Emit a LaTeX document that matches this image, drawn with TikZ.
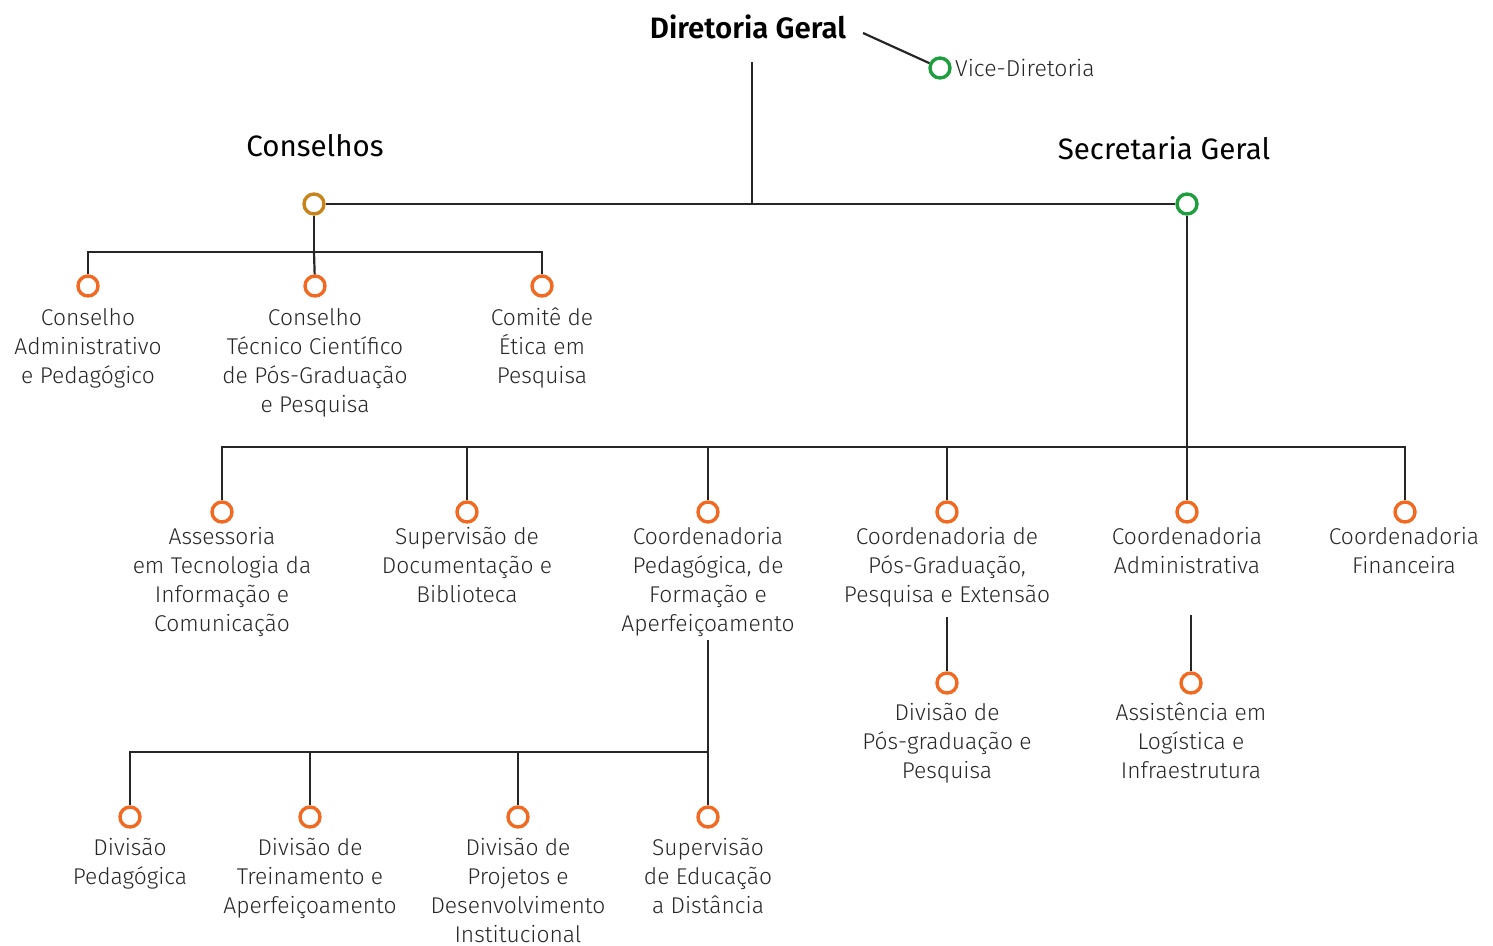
\documentclass[tikz,border=0pt]{standalone}
\usepackage{fontspec}
\setmainfont{Fira Sans}[UprightFont=* Light, BoldFont=* Medium]
\newfontfamily\headfont{Fira Sans}[UprightFont=*, BoldFont=* SemiBold]
\definecolor{orgorange}{HTML}{F26A21}
\definecolor{orggreen}{HTML}{1E9E3E}
\definecolor{orggold}{HTML}{C8841A}
\tikzset{
  dot/.style={circle, draw=orgorange, line width=3.4pt, fill=white, minimum size=20pt, inner sep=0pt},
  gdot/.style={dot, draw=orggreen},
  label/.style={align=center, anchor=north, inner sep=0pt, font=\fontsize{22.8pt}{29pt}\selectfont, text=black!85},
  head/.style={inner sep=2pt, font=\headfont\fontsize{29.5pt}{32pt}\selectfont},
  conn/.style={line width=2.2pt, black!85}
}
\begin{document}
\begin{tikzpicture}[x=1pt, y=-1pt]
\useasboundingbox (0,0) rectangle (1493,945);
% top level
\node[head, font=\headfont\bfseries\fontsize{29.5pt}{32pt}\selectfont] (dg) at (748,27) {Diretoria Geral};
\coordinate (dge) at (863,33);
\coordinate (dgs) at (752,62);
\coordinate (jtop) at (752,204);
\node[gdot] (vd) at (940,68) {};
\node[anchor=west, inner sep=0pt, font=\fontsize{23pt}{29pt}\selectfont, text=black!85] (lvd) at (955,68) {Vice-Diretoria};
\node[head] (lcons) at (315,146) {Conselhos};
\node[head] (lsg) at (1164,148) {Secretaria Geral};
\node[dot, draw=orggold] (cons) at (314,204) {};
\node[gdot] (sg) at (1187,204) {};
\draw[conn] (dge) -- (vd);
\draw[conn] (dgs) -- (jtop);
\draw[conn] (cons) -- (sg);
% conselhos
\coordinate (jcons) at (314,252);
\node[dot] (cap) at (88,286) {};
\node[dot] (ctc) at (315,286) {};
\node[dot] (cep) at (542,286) {};
\draw[conn] (cons) -- (jcons);
\draw[conn] (cap) |- (jcons) -| (cep);
\draw[conn] (jcons) -- (ctc);
\node[label] (lcap) at (88,308) {Conselho\\Administrativo\\e Pedagógico};
\node[label] (lctc) at (315,308) {Conselho\\Técnico Científico\\de Pós-Graduação\\e Pesquisa};
\node[label] (lcep) at (542,308) {Comitê de\\Ética em\\Pesquisa};
% secretaria geral
\coordinate (jsg) at (1187,447);
\node[dot] (atic) at (222,512) {};
\node[dot] (sdb) at (467,512) {};
\node[dot] (cpf) at (708,512) {};
\node[dot] (cpg) at (947,512) {};
\node[dot] (cad) at (1187,512) {};
\node[dot] (cfi) at (1405,512) {};
\draw[conn] (sg) -- (jsg);
\draw[conn] (atic) |- (jsg) -| (cfi);
\draw[conn] (sdb) -- (sdb |- jsg);
\draw[conn] (cpf) -- (cpf |- jsg);
\draw[conn] (cpg) -- (cpg |- jsg);
\draw[conn] (jsg) -- (cad);
\node[label] (latic) at (222,527) {Assessoria\\em Tecnologia da\\Informação e\\Comunicação};
\node[label] (lsdb) at (467,527) {Supervisão de\\Documentação e\\Biblioteca};
\node[label] (lcpf) at (708,527) {Coordenadoria\\Pedagógica, de\\Formação e\\Aperfeiçoamento};
\node[label] (lcpg) at (947,527) {Coordenadoria de\\Pós-Graduação,\\Pesquisa e Extensão};
\node[label] (lcad) at (1187,527) {Coordenadoria\\Administrativa};
\node[label] (lcfi) at (1404,527) {Coordenadoria\\Financeira};
% divisoes
\node[dot] (dpp) at (947,683) {};
\node[dot] (ali) at (1191,683) {};
\coordinate (cpgs) at (947,617);
\coordinate (cads) at (1191,615);
\draw[conn] (cpgs) -- (dpp);
\draw[conn] (cads) -- (ali);
\node[label] (ldpp) at (947,703) {Divisão de\\Pós-graduação e\\Pesquisa};
\node[label] (lali) at (1191,703) {Assistência em\\Logística e\\Infraestrutura};
% coordenadoria pedagogica
\coordinate (cpfs) at (708,640);
\coordinate (jped) at (708,752);
\node[dot] (dped) at (130,817) {};
\node[dot] (dta) at (310,817) {};
\node[dot] (dpdi) at (518,817) {};
\node[dot] (sead) at (708,817) {};
\draw[conn] (cpfs) -- (sead);
\draw[conn] (dped) |- (jped);
\draw[conn] (dta) -- (dta |- jped);
\draw[conn] (dpdi) -- (dpdi |- jped);
\node[label] (ldped) at (130,838) {Divisão\\Pedagógica};
\node[label] (ldta) at (310,838) {Divisão de\\Treinamento e\\Aperfeiçoamento};
\node[label] (ldpdi) at (518,838) {Divisão de\\Projetos e\\Desenvolvimento\\Institucional};
\node[label] (lsead) at (708,838) {Supervisão\\de Educação\\a Distância};
\end{tikzpicture}
\end{document}
